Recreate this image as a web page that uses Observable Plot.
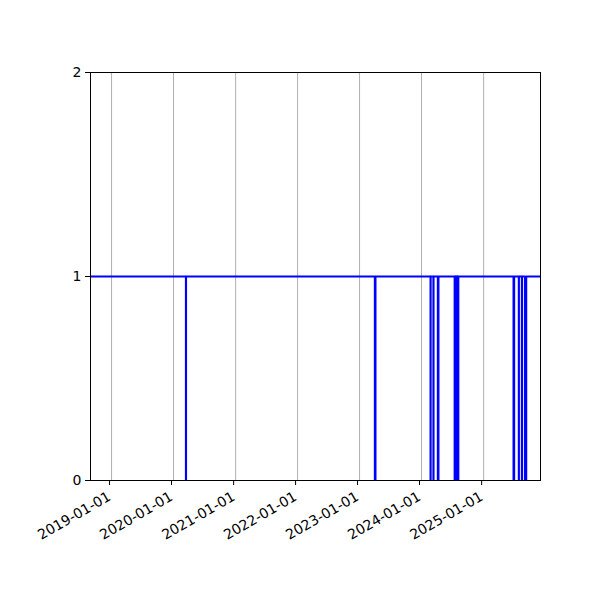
<!DOCTYPE html>
<html>
<head>
<meta charset="utf-8">
<script src="https://cdn.jsdelivr.net/npm/d3@7"></script>
<script src="https://cdn.jsdelivr.net/npm/@observablehq/plot@0.6"></script>
<style>
  html, body { margin: 0; padding: 0; background: white; }
  #chart { width: 600px; height: 600px; }
</style>
</head>
<body>
<div id="chart"></div>
<script>
// X-axis extent
const xStart = "2018-08-30";
const xEnd = "2025-12-02";

// Tick labels
const xTicks = ["2019-01-01", "2020-01-01", "2021-01-01", "2022-01-01", "2023-01-01", "2024-01-01", "2025-01-01"];
const yTicks = [0, 1, 2];

// Change points of the step series (value holds until next date)
const changeDates = [
  "2018-08-30",
  "2020-03-14", "2020-03-15",
  "2023-04-01", "2023-04-05",
  "2024-02-23", "2024-02-24",
  "2024-03-11", "2024-03-12",
  "2024-04-06", "2024-04-10",
  "2024-07-14", "2024-07-16",
  "2024-07-18", "2024-07-20",
  "2024-07-22", "2024-07-24",
  "2024-07-26", "2024-07-28",
  "2024-07-30", "2024-08-01",
  "2024-08-03", "2024-08-05",
  "2025-06-26", "2025-06-30",
  "2025-07-27", "2025-07-28",
  "2025-08-14", "2025-08-15",
  "2025-09-01", "2025-09-09",
  "2025-12-02"
];
const changeValues = [
  1,
  0, 1,
  0, 1,
  0, 1,
  0, 1,
  0, 1,
  0, 1,
  0, 1,
  0, 1,
  0, 1,
  0, 1,
  0, 1,
  0, 1,
  0, 1,
  0, 1,
  0, 1,
  1
];

const data = changeDates.map((d, i) => ({ date: new Date(d), value: changeValues[i] }));
const xTickDates = xTicks.map(d => new Date(d));

const chart = Plot.plot({
  width: 600,
  height: 600,
  marginLeft: 90,
  marginRight: 60,
  marginTop: 72,
  marginBottom: 120,
  style: { fontFamily: "DejaVu Sans", fontSize: "13px", background: "white", color: "black" },
  x: { type: "utc", domain: [new Date(xStart), new Date(xEnd)] },
  y: { domain: [0, 2] },
  marks: [
    Plot.gridX(xTickDates, { stroke: "#b0b0b0", strokeOpacity: 1, strokeWidth: 1 }),
    Plot.line(data, { x: "date", y: "value", curve: "step-after", stroke: "#0000ff", strokeWidth: 2, clip: true }),
    Plot.frame({ stroke: "black", strokeWidth: 1 }),
    Plot.axisY(yTicks, { tickSize: 5, tickPadding: 4, tickFormat: d3.format("d"), label: null, fontSize: 14 }),
    Plot.axisX(xTickDates, { tickSize: 5, tickPadding: 10, tickRotate: -30, tickFormat: d3.utcFormat("%Y-%m-%d"), label: null, fontSize: 14, dx: -2 })
  ]
});
document.getElementById("chart").appendChild(chart);
</script>
</body>
</html>
